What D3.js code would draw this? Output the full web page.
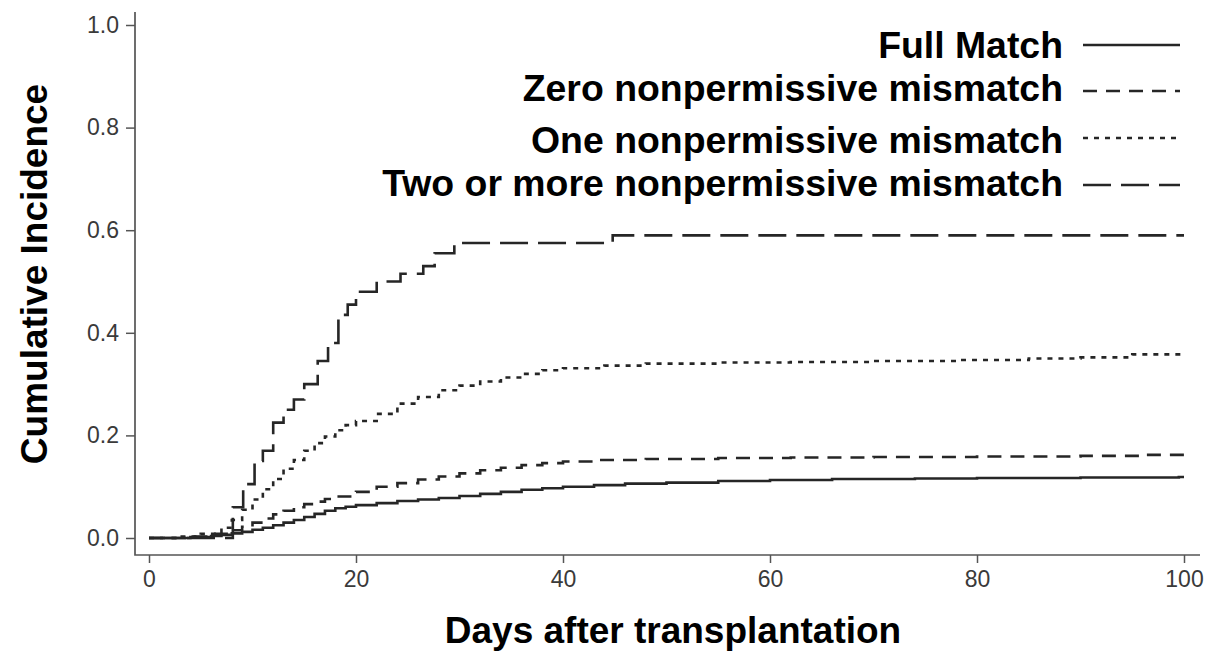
<!DOCTYPE html>
<html>
<head>
<meta charset="utf-8">
<script src="https://cdn.jsdelivr.net/npm/d3@7"></script>
<style>
  html, body { margin: 0; padding: 0; background: #fff; }
  svg { display: block; }
</style>
</head>
<body>
<svg id="chart" width="1209" height="653"></svg>
<script>
// Cumulative incidence by HLA mismatch group: [day, cumulative incidence]
const fullMatch = [
  [0, 0], [4, 0.002], [6, 0.004], [7, 0.006], [8, 0.009], [9, 0.012], [10, 0.016],
  [11, 0.02], [12, 0.025], [13, 0.03], [14, 0.035], [15, 0.041], [16, 0.047],
  [17, 0.053], [18, 0.058], [19, 0.061], [20, 0.064], [22, 0.068], [24, 0.072],
  [26, 0.075], [28, 0.078], [30, 0.082], [32, 0.086], [34, 0.09], [36, 0.094],
  [38, 0.097], [40, 0.1], [43, 0.103], [46, 0.106], [50, 0.108], [55, 0.111],
  [60, 0.113], [66, 0.115], [74, 0.116], [80, 0.117], [90, 0.118], [99.5, 0.119], [100, 0.119]
];
const zeroNonpermissive = [
  [0, 0], [4, 0.003], [6, 0.008], [8, 0.015], [9, 0.022], [10, 0.03], [11, 0.038],
  [12, 0.046], [13, 0.053], [14, 0.06], [15, 0.066], [16, 0.071], [17, 0.076],
  [18, 0.081], [20, 0.09], [22, 0.1], [24, 0.107], [26, 0.114], [28, 0.12],
  [30, 0.126], [32, 0.132], [34, 0.137], [36, 0.142], [38, 0.146], [40, 0.149],
  [43, 0.152], [48, 0.154], [55, 0.156], [62, 0.157], [70, 0.158], [80, 0.159],
  [90, 0.16], [96, 0.162], [100, 0.162]
];
const oneNonpermissive = [
  [0, 0], [3, 0.003], [5, 0.008], [7, 0.02], [8, 0.035], [9, 0.055], [10, 0.075],
  [11, 0.095], [12, 0.115], [13, 0.135], [14, 0.152], [15, 0.17], [16, 0.185],
  [17, 0.198], [18, 0.21], [19, 0.22], [20, 0.228], [22, 0.242], [24, 0.262],
  [26, 0.275], [28, 0.288], [30, 0.297], [32, 0.305], [34, 0.313], [36, 0.32],
  [38, 0.327], [40, 0.331], [44, 0.336], [48, 0.34], [55, 0.342], [62, 0.343],
  [70, 0.345], [78, 0.347], [85, 0.35], [90, 0.352], [95, 0.358], [100, 0.36]
];
const twoPlusNonpermissive = [
  [0, 0], [8.1, 0.06], [9.1, 0.105], [10.2, 0.15], [11, 0.17], [12, 0.225],
  [13, 0.25], [14, 0.27], [15, 0.3], [16.3, 0.345], [17.3, 0.38], [18.3, 0.435],
  [19.2, 0.455], [20, 0.48], [22, 0.5], [24.3, 0.515], [26.5, 0.53], [27.6, 0.555],
  [29.5, 0.575], [44.8, 0.59], [100, 0.59]
];

const legendLabels = [
  "Full Match",
  "Zero nonpermissive mismatch",
  "One nonpermissive mismatch",
  "Two or more nonpermissive mismatch"
];
const xTicks = [0, 20, 40, 60, 80, 100];
const yTicks = [0, 0.2, 0.4, 0.6, 0.8, 1.0];

const seriesList = [fullMatch, zeroNonpermissive, oneNonpermissive, twoPlusNonpermissive];
const dashes = [null, "14,9", "5,6", "28,10"];

const svg = d3.select("#chart");
const x = d3.scaleLinear().domain([0, 100]).range([149, 1184]);
const y = d3.scaleLinear().domain([0, 1]).range([538, 25]);

const axisColor = "#555";
const labelColor = "#3a3a3a";
const lineColor = "#262626";
const font = "Liberation Sans, Arial, sans-serif";

// L-shaped frame (left and bottom)
svg.append("path")
  .attr("d", "M135,12V555H1200")
  .attr("fill", "none")
  .attr("stroke", axisColor)
  .attr("stroke-width", 1.7);

// Y axis ticks and labels
const yAxis = d3.axisLeft(y).tickValues(yTicks).tickFormat(d3.format(".1f")).tickSize(9).tickPadding(7);
const gy = svg.append("g").attr("transform", "translate(135,0)").call(yAxis);
gy.select(".domain").remove();
gy.selectAll(".tick line").attr("stroke", axisColor).attr("stroke-width", 1.5);
gy.selectAll(".tick text")
  .attr("fill", labelColor)
  .style("font-family", font)
  .style("font-size", "23px");

// X axis ticks and labels
const xAxis = d3.axisBottom(x).tickValues(xTicks).tickFormat(d3.format("d")).tickSize(8).tickPadding(8);
const gx = svg.append("g").attr("transform", "translate(0,555)").call(xAxis);
gx.select(".domain").remove();
gx.selectAll(".tick line").attr("stroke", axisColor).attr("stroke-width", 1.5);
gx.selectAll(".tick text")
  .attr("fill", labelColor)
  .style("font-family", font)
  .style("font-size", "23px");

// Curves
const line = d3.line()
  .x(d => x(d[0]))
  .y(d => y(d[1]))
  .curve(d3.curveStepAfter);

seriesList.forEach((s, i) => {
  svg.append("path")
    .datum(s)
    .attr("d", line)
    .attr("fill", "none")
    .attr("stroke", lineColor)
    .attr("stroke-width", 2.6)
    .attr("stroke-dasharray", dashes[i]);
});

// Axis titles
svg.append("text")
  .attr("x", 673).attr("y", 643)
  .attr("text-anchor", "middle")
  .style("font-family", font).style("font-weight", "bold").style("font-size", "37px")
  .attr("fill", "#000")
  .text("Days after transplantation");

svg.append("text")
  .attr("transform", "translate(47,274) rotate(-90)")
  .attr("text-anchor", "middle")
  .style("font-family", font).style("font-weight", "bold").style("font-size", "37px")
  .attr("fill", "#000")
  .text("Cumulative Incidence");

// Legend
const legendTextY = [58, 101, 153, 196];
const legendLineY = [45, 91, 138, 185];
legendLabels.forEach((lab, i) => {
  svg.append("text")
    .attr("x", 1063).attr("y", legendTextY[i])
    .attr("text-anchor", "end")
    .style("font-family", font).style("font-weight", "bold").style("font-size", "37.4px")
    .attr("fill", "#000")
    .text(lab);
  svg.append("line")
    .attr("x1", 1083).attr("x2", 1180)
    .attr("y1", legendLineY[i]).attr("y2", legendLineY[i])
    .attr("stroke", lineColor)
    .attr("stroke-width", 2.6)
    .attr("stroke-dasharray", dashes[i]);
});
</script>
</body>
</html>
